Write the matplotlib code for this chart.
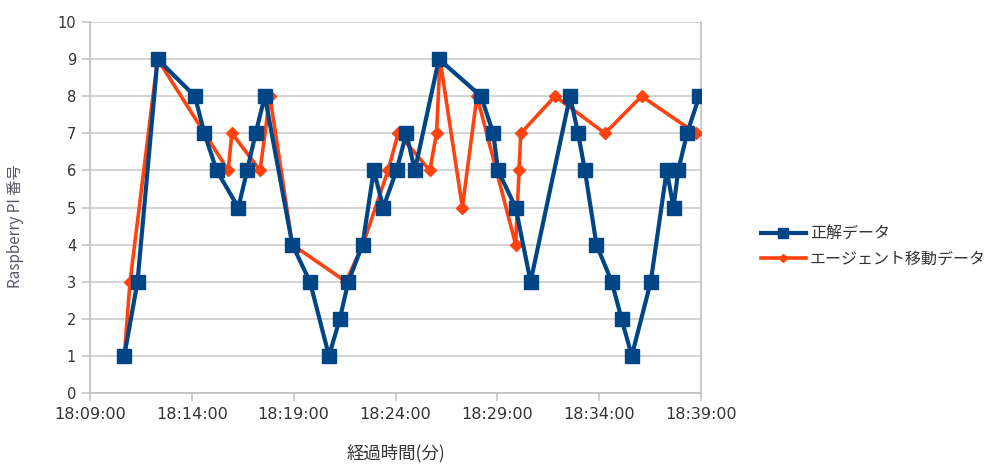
import datetime as dt
import matplotlib
matplotlib.use("Agg")
import matplotlib.pyplot as plt
import matplotlib.dates as mdates

# Ground-truth Raspberry Pi positions (time, Pi number)
truth_times = [
    "18:10:41", "18:11:20", "18:12:19", "18:14:09", "18:14:37", "18:15:13",
    "18:16:17", "18:16:43", "18:17:08", "18:17:35", "18:18:56", "18:19:48",
    "18:20:44", "18:21:16", "18:21:41", "18:22:23", "18:22:56", "18:23:24",
    "18:24:03", "18:24:32", "18:24:57", "18:26:08", "18:28:12", "18:28:48",
    "18:29:02", "18:29:54", "18:30:38", "18:32:34", "18:32:58", "18:33:18",
    "18:33:52", "18:34:37", "18:35:06", "18:35:36", "18:36:32", "18:37:19",
    "18:37:39", "18:37:53", "18:38:19", "18:38:55",
]
truth_values = [
    1, 3, 9, 8, 7, 6, 5, 6, 7, 8, 4, 3, 1, 2, 3, 4, 6, 5, 6, 7,
    6, 9, 8, 7, 6, 5, 3, 8, 7, 6, 4, 3, 2, 1, 3, 6, 5, 6, 7, 8,
]

# Agent migration record (time, Pi number)
agent_times = [
    "18:10:41", "18:10:58", "18:12:19", "18:15:47", "18:15:58", "18:17:21",
    "18:17:50", "18:18:56", "18:21:34", "18:22:24", "18:23:38", "18:24:08",
    "18:25:41", "18:26:01", "18:26:11", "18:27:17", "18:28:00", "18:29:54",
    "18:30:04", "18:30:09", "18:31:50", "18:34:17", "18:36:05", "18:38:45",
]
agent_values = [
    1, 3, 9, 6, 7, 6, 8, 4, 3, 4, 6, 7, 6, 7, 9, 5, 8, 4, 6, 7, 8, 7, 8, 7,
]

series_labels = ["正解データ", "エージェント移動データ"]
x_label = "経過時間(分)"
y_label = "Raspberry PI 番号"

BLUE = "#004586"
RED = "#ff420e"
CJK = ["Noto Sans CJK JP", "DejaVu Sans"]


def to_dt(s):
    h, m, sec = map(int, s.split(":"))
    return dt.datetime(2000, 1, 1, h, m, sec)


tx = [to_dt(s) for s in truth_times]
ax_times = [to_dt(s) for s in agent_times]

fig = plt.figure(figsize=(9.94, 4.66), dpi=100)
ax = fig.add_axes([90 / 994, 1 - 393 / 466, 611 / 994, 371 / 466])

ax.plot(ax_times, agent_values, color=RED, lw=2.6, marker="D", ms=6.5,
        mec=RED, mfc=RED, label=series_labels[1], zorder=3)
ax.plot(tx, truth_values, color=BLUE, lw=3.0, marker="s", ms=9.5,
        mec=BLUE, mfc=BLUE, label=series_labels[0], zorder=4)

start = to_dt("18:09:00")
end = to_dt("18:39:00")
ax.set_xlim(start, end)
ax.set_ylim(0, 10)
ax.set_yticks(range(0, 11))
ax.set_xticks([start + dt.timedelta(minutes=5 * i) for i in range(7)])
ax.xaxis.set_major_formatter(mdates.DateFormatter("%H:%M:%S"))

ax.grid(axis="y", color="#c8c8c8", lw=1.1)
ax.set_axisbelow(True)
ax.spines["top"].set_visible(False)
for side in ["left", "bottom", "right"]:
    ax.spines[side].set_color("#c0c0c0")
    ax.spines[side].set_linewidth(1.2)

ax.tick_params(axis="y", length=6, width=1.1, color="#c0c0c0", pad=4,
               labelsize=10.5, labelcolor="#333333")
ax.tick_params(axis="x", length=6, width=1.1, color="#c0c0c0", pad=4,
               labelsize=11.5, labelcolor="#333333")

ax.set_xlabel(x_label, family=CJK, fontsize=12.5, color="#333333", labelpad=16)
ax.set_ylabel(y_label, family=CJK, fontsize=11, color="#5a5566")
ax.yaxis.set_label_coords(-0.108, 0.45)

handles, labels = ax.get_legend_handles_labels()
order = [1, 0]
leg = fig.legend([handles[i] for i in order], [labels[i] for i in order],
                 loc="center left", bbox_to_anchor=(761 / 994, 1 - 247 / 466),
                 frameon=False, handlelength=2.8, handletextpad=0.25,
                 labelspacing=0.5, borderpad=0, borderaxespad=0,
                 markerscale=0.7,
                 prop={"family": CJK, "size": 11.5})
for t in leg.get_texts():
    t.set_color("#333333")

fig.savefig("out.png", dpi=100)
